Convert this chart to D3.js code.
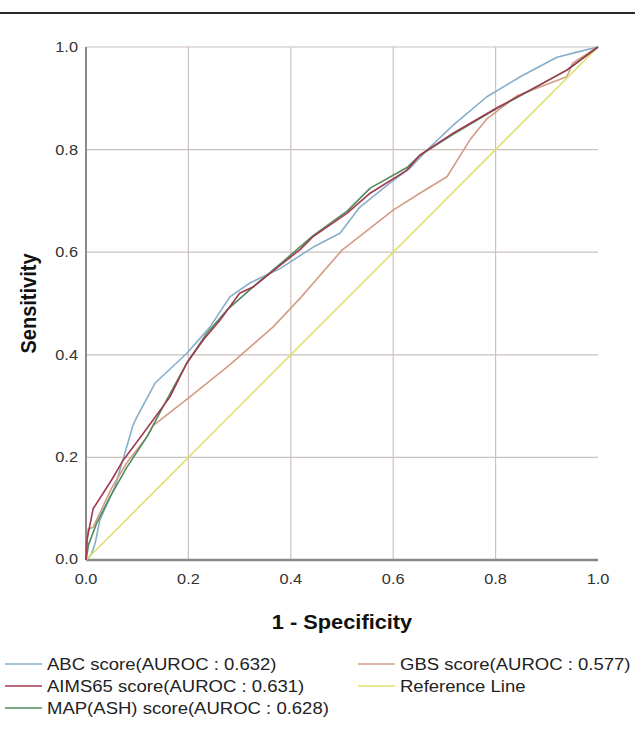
<!DOCTYPE html>
<html>
<head>
<meta charset="utf-8">
<script src="https://cdn.jsdelivr.net/npm/d3@7"></script>
<style>
  html, body { margin: 0; padding: 0; background: #fff; }
  svg { display: block; }
  text { font-family: "Liberation Sans", Arial, sans-serif; }
</style>
</head>
<body>
<svg id="chart" width="635" height="736"></svg>
<script>
// ---- data ----
const xTicks = [0, 0.2, 0.4, 0.6, 0.8, 1.0];
const yTicks = [0, 0.2, 0.4, 0.6, 0.8, 1.0];
const tickLabels = ["0.0", "0.2", "0.4", "0.6", "0.8", "1.0"];
const xTitle = "1 - Specificity";
const yTitle = "Sensitivity";

const abcX = [0, 0.01, 0.018, 0.027, 0.057, 0.092, 0.10, 0.135, 0.197, 0.242, 0.281, 0.32, 0.379, 0.444, 0.496, 0.535, 0.594, 0.633, 0.672, 0.72, 0.783, 0.848, 0.92, 0.959, 1];
const abcY = [0, 0.01, 0.033, 0.078, 0.144, 0.263, 0.28, 0.345, 0.403, 0.454, 0.513, 0.54, 0.568, 0.61, 0.637, 0.688, 0.735, 0.764, 0.805, 0.85, 0.903, 0.942, 0.98, 0.99, 1];

const aimsX = [0, 0.002, 0.014, 0.05, 0.073, 0.112, 0.164, 0.197, 0.229, 0.262, 0.30, 0.326, 0.376, 0.418, 0.443, 0.51, 0.555, 0.627, 0.652, 0.717, 0.802, 0.867, 0.939, 1];
const aimsY = [0, 0.04, 0.10, 0.156, 0.195, 0.247, 0.318, 0.384, 0.429, 0.468, 0.52, 0.532, 0.572, 0.605, 0.63, 0.676, 0.715, 0.76, 0.789, 0.832, 0.881, 0.916, 0.955, 1];

const mapX = [0, 0.005, 0.021, 0.047, 0.08, 0.119, 0.15, 0.197, 0.236, 0.275, 0.326, 0.404, 0.443, 0.51, 0.555, 0.627, 0.652, 0.717, 0.802, 0.867, 0.939, 1];
const mapY = [0, 0.03, 0.072, 0.123, 0.181, 0.24, 0.298, 0.384, 0.442, 0.487, 0.532, 0.598, 0.632, 0.68, 0.725, 0.765, 0.789, 0.83, 0.88, 0.915, 0.955, 1];

const gbsX = [0, 0.004, 0.014, 0.05, 0.08, 0.119, 0.131, 0.203, 0.28, 0.365, 0.418, 0.50, 0.60, 0.652, 0.705, 0.75, 0.783, 0.842, 0.939, 0.951, 1];
const gbsY = [0, 0.06, 0.064, 0.14, 0.19, 0.24, 0.262, 0.318, 0.38, 0.454, 0.51, 0.604, 0.682, 0.715, 0.747, 0.819, 0.86, 0.905, 0.942, 0.969, 1];

const refX = [0, 1];
const refY = [0, 1];

const seriesNames = ["ABC score(AUROC : 0.632)", "AIMS65 score(AUROC : 0.631)", "MAP(ASH) score(AUROC : 0.628)", "GBS score(AUROC : 0.577)", "Reference Line"];
const seriesColors = ["#86aecb", "#a23a50", "#4f8c5d", "#d49c84", "#dfe06c"];

// ---- build ----
const series = [
  {name: seriesNames[0], color: seriesColors[0], xs: abcX, ys: abcY},
  {name: seriesNames[3], color: seriesColors[3], xs: gbsX, ys: gbsY},
  {name: seriesNames[4], color: seriesColors[4], xs: refX, ys: refY},
  {name: seriesNames[2], color: seriesColors[2], xs: mapX, ys: mapY},
  {name: seriesNames[1], color: seriesColors[1], xs: aimsX, ys: aimsY}
];

const svg = d3.select("#chart");
const x = d3.scaleLinear().domain([0, 1]).range([86, 598]);
const y = d3.scaleLinear().domain([0, 1]).range([560, 47]);
const SX = 1.09; // horizontal stretch of the original figure's text

function stretchedText(parent, tx, ty, anchor, size, weight, fill, str, rot) {
  const t = parent.append("text")
    .attr("transform", rot ? `translate(${tx},${ty}) rotate(-90) scale(1,${SX})`
                           : `translate(${tx},${ty}) scale(${SX},1)`)
    .attr("text-anchor", anchor).attr("font-size", size)
    .attr("fill", fill).text(str);
  if (weight) t.attr("font-weight", weight);
  return t;
}

// top rule
svg.append("line").attr("x1", 0).attr("x2", 635).attr("y1", 13).attr("y2", 13)
  .attr("stroke", "#2a2a2a").attr("stroke-width", 2.2);

// grid
const grid = svg.append("g");
grid.selectAll("line.h").data(yTicks.filter(d => d > 0)).enter().append("line")
  .attr("x1", x(0)).attr("x2", x(1)).attr("y1", d => y(d)).attr("y2", d => y(d))
  .attr("stroke", "#cbc2bf").attr("stroke-width", 1.2);
grid.selectAll("line.v").data(xTicks.filter(d => d > 0 && d < 1)).enter().append("line")
  .attr("x1", d => x(d)).attr("x2", d => x(d)).attr("y1", y(1)).attr("y2", y(0))
  .attr("stroke", "#cbc2bf").attr("stroke-width", 1.2);

// axes lines
svg.append("line").attr("x1", x(0)).attr("x2", x(0)).attr("y1", y(1)).attr("y2", y(0))
  .attr("stroke", "#8c8888").attr("stroke-width", 2);
svg.append("line").attr("x1", x(0)).attr("x2", x(1)).attr("y1", y(0)).attr("y2", y(0))
  .attr("stroke", "#8c8888").attr("stroke-width", 2.5);

// tick labels
yTicks.forEach((d, i) => {
  stretchedText(svg, 78, y(d) + 5 + (d === 0 ? -1 : 0), "end", 15, null, "#333", tickLabels[i]);
});
xTicks.forEach((d, i) => {
  stretchedText(svg, x(d), 584, "middle", 15, null, "#333", tickLabels[i]);
});

// titles
stretchedText(svg, x(0.5), 629, "middle", 20, "bold", "#111", xTitle);
stretchedText(svg, 36, y(0.5), "middle", 20, "bold", "#111", yTitle, true);

// curves
const line = d3.line().x(d => x(d[0])).y(d => y(d[1]));
const plot = svg.append("g");
series.forEach(s => {
  const pts = s.xs.map((v, i) => [v, s.ys[i]]);
  plot.append("path").attr("d", line(pts)).attr("fill", "none")
    .attr("stroke", s.color).attr("stroke-width", 1.6).attr("stroke-linejoin", "round");
});

// legend
const legendItems = [
  {name: seriesNames[0], color: seriesColors[0], col: 0, row: 0},
  {name: seriesNames[1], color: seriesColors[1], col: 0, row: 1},
  {name: seriesNames[2], color: seriesColors[2], col: 0, row: 2},
  {name: seriesNames[3], color: seriesColors[3], col: 1, row: 0},
  {name: seriesNames[4], color: seriesColors[4], col: 1, row: 1}
];
const colX = [5, 358];
const rowY = [664, 686, 708];
const lg = svg.append("g");
legendItems.forEach(it => {
  lg.append("line").attr("x1", colX[it.col]).attr("x2", colX[it.col] + 37)
    .attr("y1", rowY[it.row]).attr("y2", rowY[it.row])
    .attr("stroke", it.color).attr("stroke-width", 1.5);
  stretchedText(lg, colX[it.col] + 42, rowY[it.row] + 6, "start", 17, null, "#222", it.name);
});
</script>
</body>
</html>
